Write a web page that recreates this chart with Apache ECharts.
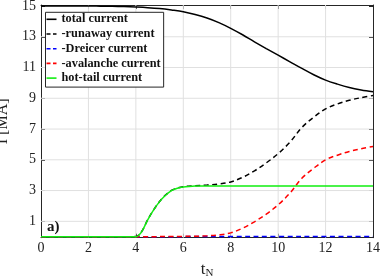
<!DOCTYPE html>
<html><head><meta charset="utf-8">
<script src="https://cdn.jsdelivr.net/npm/echarts@6/dist/echarts.min.js"></script>
<style>html,body{margin:0;padding:0;background:#fff}#c{width:382px;height:280px}</style>
</head><body><div id="c"></div>
<script>
const tTot = [0,1,2,2.5,3,3.5,4,4.5,5,5.5,6,6.5,7,7.5,8,8.5,9,9.5,10,10.5,11,11.5,12,12.5,13,13.5,14];
const iTot = [15,15,15,14.99,14.98,14.96,14.93,14.89,14.83,14.74,14.63,14.45,14.22,13.92,13.55,13.13,12.67,12.23,11.8,11.37,10.94,10.53,10.18,9.92,9.7,9.54,9.42];
const tRun = [0,2,3.5,4,4.1,4.25,4.5,4.75,5,5.25,5.5,5.75,6,6.5,7,7.5,8,8.5,9,9.5,10,10.5,11,11.5,12,12.5,13,13.5,14];
const iRun = [0,0,0,0.01,0.07,0.34,1.1,1.75,2.29,2.71,3.01,3.16,3.25,3.31,3.36,3.43,3.56,3.86,4.28,4.8,5.4,6.15,7.1,7.77,8.31,8.63,8.87,9.04,9.18];
const tDr = [0,4,6,8,10,12,14];
const iDr = [0,0,0.005,0.01,0.015,0.02,0.02];
const tAv = [0,2,4,4.5,5,5.5,6,6.5,7,7.5,8,8.5,9,9.5,10,10.5,11,11.5,12,12.5,13,13.5,14];
const iAv = [0,0,0,0.002,0.005,0.01,0.02,0.03,0.06,0.12,0.25,0.55,0.97,1.47,2.07,2.84,3.8,4.45,5.0,5.3,5.54,5.72,5.87];
const tHot = [0,1,2,3,3.5,4,4.1,4.25,4.5,4.75,5,5.25,5.5,5.75,6,6.25,6.5,7,8,10,12,14];
const iHot = [0,0,0,0,0,0,0.06,0.33,1.09,1.74,2.28,2.7,3.0,3.15,3.23,3.27,3.29,3.3,3.3,3.3,3.3,3.3];
const xTicks = [0,2,4,6,8,10,12,14];
const yTicks = [1,3,5,7,9,11,13,15];
const names = ['total current','-runaway current','-Dreicer current','-avalanche current','hot-tail current'];
const dashed = [false, true, true, true, false];

const pairs = (t, v) => t.map((x, i) => [x, v[i]]);
const FONT = 'Liberation Serif';
const AX = '#262626';
const GRIDC = '#e0e0e0';
const ICON_SOLID = 'path://M0,0H10V1.6H0Z';
const ICON_DASH = 'path://M0,0H4V1.6H0Z M6.5,0H10V1.6H6.5Z';

const chart = echarts.init(document.getElementById('c'), null, {renderer: 'canvas'});
const yMin = -0.065, yMax = 15.065;
const mk = (name, t, v, color, dash, z) => ({
  name, type: 'line', data: pairs(t, v), symbol: 'none', showSymbol: false,
  smooth: 0.35, clip: true, animation: false, z: z,
  lineStyle: {color, width: 1.5, type: dash ? [5, 3.5] : 'solid'},
  itemStyle: {color}
});
const gridSeries = (pts) => ({
  type: 'line', data: pts, symbol: 'none', silent: true, z: 2, animation: false,
  lineStyle: {color: GRIDC, width: 1, type: 'solid'}, tooltip: {show: false}
});
const axLine = {show: true, onZero: false, lineStyle: {color: AX, width: 1}};
chart.setOption({
  animation: false,
  grid: {left: 41, right: 9, top: 5, bottom: 42.3, containLabel: false, outerBoundsMode: 'none'},
  xAxis: [{
    type: 'value', min: 0, max: 14, interval: 2,
    axisLine: axLine,
    axisTick: {inside: true, length: 4, lineStyle: {color: AX}},
    axisLabel: {fontFamily: FONT, fontSize: 14, color: '#222', margin: 4},
    splitLine: {show: false},
    name: '{t|t}{n|N}', nameLocation: 'middle', nameGap: 19,
    nameTextStyle: {rich: {t: {fontFamily: FONT, fontSize: 17, color: '#222'}, n: {fontFamily: FONT, fontSize: 11, color: '#222', verticalAlign: 'bottom', padding: [8, 0, 0, 0]}}}
  }, {
    type: 'value', min: 0, max: 14, interval: 2, position: 'top',
    axisLine: axLine, axisLabel: {show: false}, splitLine: {show: false},
    axisTick: {inside: true, length: 4, lineStyle: {color: AX}}
  }],
  yAxis: [{
    type: 'value', min: yMin, max: yMax, position: 'left',
    axisLine: axLine,
    axisTick: {inside: true, length: 4, lineStyle: {color: AX}, customValues: yTicks},
    axisLabel: {fontFamily: FONT, fontSize: 14, color: '#222', margin: 5, customValues: yTicks},
    splitLine: {show: false},
    name: 'I [MA]', nameLocation: 'middle', nameGap: 30,
    nameTextStyle: {fontFamily: FONT, fontSize: 16, color: '#222'}
  }, {
    type: 'value', min: yMin, max: yMax, position: 'right',
    axisLine: axLine, axisLabel: {show: false}, splitLine: {show: false},
    axisTick: {inside: true, length: 4, lineStyle: {color: AX}, customValues: yTicks}
  }],
  legend: {
    data: names.map((n, i) => ({name: n, icon: dashed[i] ? ICON_DASH : ICON_SOLID})),
    orient: 'vertical', left: 45.5, top: 12.3, z: 20,
    backgroundColor: '#fff', borderColor: AX, borderWidth: 1,
    padding: [0, 3, 2, 1], itemGap: 0.7, itemWidth: 10, itemHeight: 1.6,
    textStyle: {fontFamily: FONT, fontSize: 12.3, fontWeight: 'bold', color: '#111', lineHeight: 14},
    selectedMode: false
  },
  graphic: [{type: 'text', left: 47, top: 220, z: 30, style: {text: 'a)', font: 'bold 15px "Liberation Serif"', fill: '#111'}}],
  series: []
    .concat(yTicks.filter(v => v < 15).map(v => gridSeries([[0, v], [14, v]])))
    .concat(xTicks.filter(v => v > 0 && v < 14).map(v => gridSeries([[v, yMin], [v, yMax]])))
    .concat([
      mk(names[0], tTot, iTot, '#000000', dashed[0], 3),
      mk(names[1], tRun, iRun, '#000000', dashed[1], 4),
      mk(names[2], tDr, iDr, '#0000ff', dashed[2], 5),
      mk(names[3], tAv, iAv, '#ff0000', dashed[3], 6),
      mk(names[4], tHot, iHot, '#11ee11', dashed[4], 7)
    ])
});
</script></body></html>
